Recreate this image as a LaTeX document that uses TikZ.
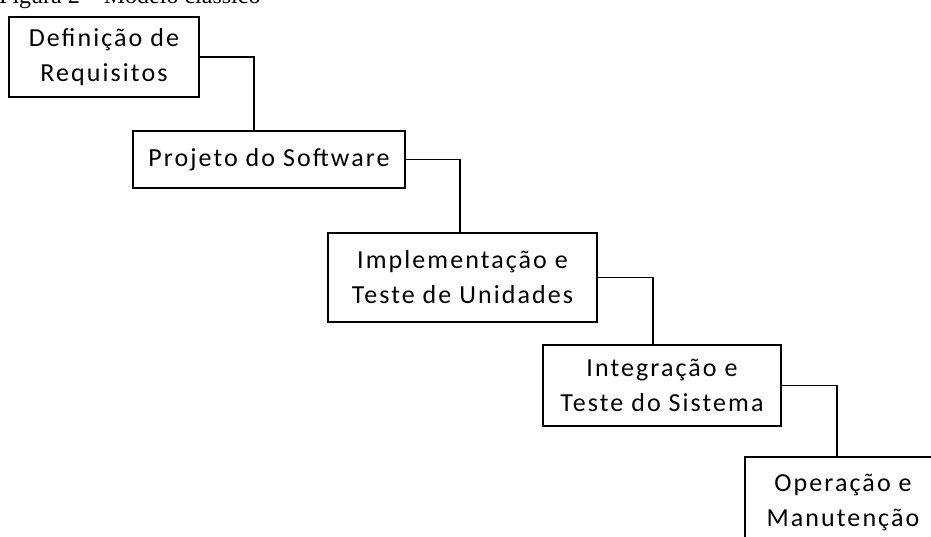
\documentclass[tikz,border=0pt]{standalone}
\usepackage{fontspec}
\setmainfont{Liberation Serif}
\newfontfamily\boxfont[LetterSpace=8]{Carlito}
\begin{document}
\begin{tikzpicture}[x=1pt,y=-1pt,
  stage/.style={draw=black, line width=1.3pt, fill=white, inner sep=0pt,
    align=center, font=\boxfont\fontsize{26}{35}\selectfont},
  link/.style={draw=black, line width=1.3pt}]
\useasboundingbox (0,0) rectangle (931,537);
\clip (0,0) rectangle (931,537);

% caption, partly above the page edge
\node[anchor=base west, inner sep=0pt, font=\fontsize{24}{28}\selectfont] (cap) at (-1,4) {Figura 2 – Modelo clássico};

% process stages
\node[stage, minimum width=190, minimum height=80] (req) at (104,57) {Definição de\\Requisitos};
\node[stage, minimum width=272, minimum height=57] (proj) at (269,159.5) {Projeto do Software};
\node[stage, minimum width=269, minimum height=89] (impl) at (462.5,277.5) {Implementação e\\Teste de Unidades};
\node[stage, minimum width=238, minimum height=81] (integ) at (662,385.5) {Integração e\\Teste do Sistema};
\node[stage, minimum width=196, minimum height=90] (oper) at (843,502) {Operação e\\Manutenção};

% elbow connectors between consecutive stages
\coordinate (k1) at (254,0);
\coordinate (k2) at (460,0);
\coordinate (k3) at (653,0);
\coordinate (k4) at (837,0);
\draw[link] (req.east) -| (k1 |- proj.north);
\draw[link] (proj.east) -| (k2 |- impl.north);
\draw[link] (impl.east) -| (k3 |- integ.north);
\draw[link] (integ.east) -| (k4 |- oper.north);
\end{tikzpicture}
\end{document}
